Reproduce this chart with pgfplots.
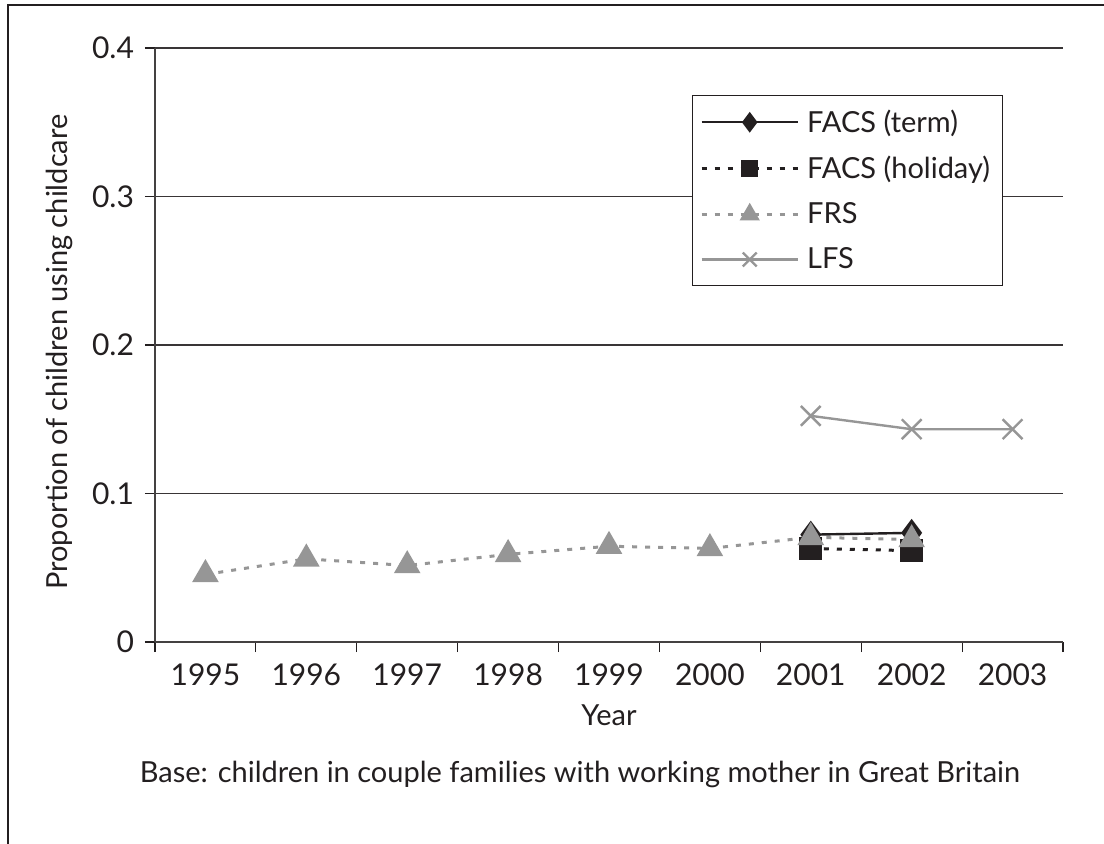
\documentclass[border=0pt]{standalone}
\usepackage{pgfplots}
\pgfplotsset{compat=1.18}
\usepackage{fontspec}
\setmainfont{Lato}
\definecolor{dk}{RGB}{35,31,32}
\definecolor{gr}{RGB}{150,150,150}
\begin{document}
\begin{tikzpicture}
\useasboundingbox (-77.5pt,-100.5pt) rectangle (474.5pt,321pt);
\draw[line width=1.4pt, dk] (-73.5pt,-101pt) -- (-73.5pt,318.5pt) -- (475pt,318.5pt);
\begin{axis}[
  scale only axis, width=454pt, height=297pt,
  xmin=-0.5, xmax=8.5, ymin=0, ymax=0.4,
  axis x line*=bottom, axis y line*=left,
  axis line style={line width=0.6pt, draw=dk!85},
  xtick={0,...,8},
  xticklabels={1995,1996,1997,1998,1999,2000,2001,2002,2003},
  major x tick style={draw=none},
  minor xtick={-0.5,0.5,...,8.5},
  minor tick length=5pt,
  minor x tick style={line width=0.6pt, draw=dk},
  ytick={0,0.1,0.2,0.3,0.4},
  yticklabels={0,0.1,0.2,0.3,0.4},
  major tick length=5pt,
  tick align=outside,
  y tick style={line width=0.6pt, draw=dk},
  ymajorgrids, grid style={line width=0.6pt, draw=dk!90},
  tick label style={font=\fontsize{15}{17}\selectfont, text=dk},
  xticklabel style={yshift=-2.5pt},
  yticklabel style={xshift=-2pt},
  /pgf/number format/assume math mode=true,
  xlabel={Year}, ylabel={Proportion of children using childcare},
  label style={font=\fontsize{14.5}{17}\selectfont, text=dk},
  xlabel style={at={(axis description cs:0.5,0)}, anchor=center, yshift=-36.5pt},
  ylabel style={at={(axis description cs:-0.1057,0.488)}, anchor=center},
  legend style={at={(0.591,0.921)}, anchor=north west, draw=dk, line width=0.6pt,
    font=\fontsize{14.5}{17}\selectfont, text=dk, inner xsep=4pt, inner ysep=5pt,
    row sep=6.5pt, /tikz/every even column/.append style={column sep=0pt},
    /tikz/every odd column/.append style={column sep=2pt}},
  legend cell align=left,
  legend image code/.code={\draw[mark repeat=2,mark phase=2, mark options={solid, scale=0.7}] plot coordinates {(0pt,0pt) (24pt,0pt) (48pt,0pt)};},
  clip=false,
]
\addplot[dk, line width=1.2pt, mark=diamond*, mark size=6pt, mark options={solid, fill=dk}]
  coordinates {(6,0.0723) (7,0.0735)};
\addlegendentry{FACS (term)}
\addplot[dk, line width=1.5pt, dash pattern=on 2.5pt off 4pt, mark=square*, mark size=5pt, mark options={solid, fill=dk}]
  coordinates {(6,0.0630) (7,0.0615)};
\addlegendentry{FACS (holiday)}
\addplot[gr, line width=1.5pt, dash pattern=on 2.5pt off 4pt, mark=triangle*, mark size=6.2pt, mark options={solid, fill=gr}]
  coordinates {(0,0.0455) (1,0.0560) (2,0.0515) (3,0.0590) (4,0.0645) (5,0.0630) (6,0.0705) (7,0.0690)};
\addlegendentry{FRS}
\addplot[gr, line width=1.2pt, mark=x, mark size=7pt, mark options={solid, line width=1.2pt}]
  coordinates {(6,0.1523) (7,0.1433) (8,0.1433)};
\addlegendentry{LFS}
\end{axis}
\node[font=\fontsize{14.5}{17}\selectfont, text=dk] at (212.5pt,-66pt) {Base: children in couple families with working mother in Great Britain};
\end{tikzpicture}
\end{document}
